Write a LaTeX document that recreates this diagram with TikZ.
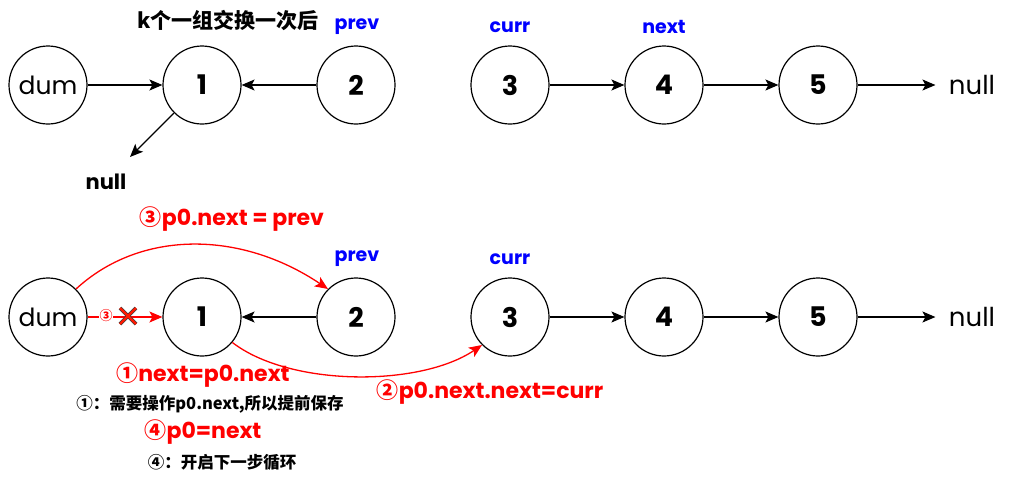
\documentclass[tikz,border=0pt]{standalone}
\usepackage{fontspec}
\setmainfont{Poppins}
\newfontfamily\cjk{Noto Sans CJK SC}
\usetikzlibrary{arrows.meta}
\begin{document}
\begin{tikzpicture}[x=1pt,y=-1pt,
  nd/.style={circle,draw,line width=1.2pt,minimum size=78pt,inner sep=0pt,font=\fontsize{27}{29}\selectfont\bfseries},
  ar/.style={-{Stealth[length=13pt,width=11pt,inset=3pt]},line width=1.2pt},
  rar/.style={ar,draw=red,line width=1.3pt},
  ptr/.style={text=blue,font=\fontsize{19}{21}\selectfont\bfseries},
  rlbl/.style={text=red,font=\fontsize{22}{24}\selectfont\bfseries},
  note/.style={font=\cjk\fontsize{16.5}{18}\selectfont\bfseries},
  plain/.style={font=\fontsize{26}{28}\selectfont}
]
\useasboundingbox (0,0) rectangle (1011,482);
% ---------- row 1 ----------
\node[font=\cjk\fontsize{21}{23}\selectfont\bfseries] (title) at (228,20) {k个一组交换一次后};
\node[nd,font=\fontsize{25}{27}\selectfont] (dumA) at (48,85) {dum};
\node[nd] (a1) at (202,85) {1};
\node[nd] (a2) at (356,85) {2};
\node[nd] (a3) at (510,85) {3};
\node[nd] (a4) at (664,85) {4};
\node[nd] (a5) at (818,85) {5};
\node[plain] (anull) at (972,85) {null};
\node[font=\fontsize{21}{23}\selectfont\bfseries] (bnull) at (106,182) {null};
\coordinate (a1null) at (130,157);
\node[ptr] (pA) at (357,27) {prev};
\node[ptr] (cA) at (510,27) {curr};
\node[ptr] (nA) at (664,27) {next};
\draw[ar] (dumA) -- (a1);
\draw[ar] (a2) -- (a1);
\draw[ar] (a1.225) -- (a1null);
\draw[ar] (a3) -- (a4);
\draw[ar] (a4) -- (a5);
\draw[ar,shorten >=10pt] (a5) -- (anull);
% ---------- row 2 ----------
\node[nd,font=\fontsize{25}{27}\selectfont] (dumB) at (48,317) {dum};
\node[nd] (b1) at (202,317) {1};
\node[nd] (b2) at (356,317) {2};
\node[nd] (b3) at (510,317) {3};
\node[nd] (b4) at (664,317) {4};
\node[nd] (b5) at (818,317) {5};
\node[plain] (bnull2) at (972,317) {null};
\node[ptr] (pB) at (357,259) {prev};
\node[ptr] (cB) at (510,259) {curr};
\draw[rar] (dumB) -- (b1);
\node[text=red,font=\cjk\fontsize{13}{13}\selectfont\bfseries,fill=white,inner sep=0.5pt] (c3) at (106,316) {③};
\node (xm) at (128,316) {};
\draw[line width=3.6pt,black!75] (120,308) -- (136,324) (120,324) -- (136,308);
\draw[line width=2.2pt,red!80!orange] (120,308) -- (136,324) (120,324) -- (136,308);
\draw[ar] (b2) -- (b1);
\draw[ar] (b3) -- (b4);
\draw[ar] (b4) -- (b5);
\draw[ar,shorten >=10pt] (b5) -- (bnull2);
\draw[rar] (dumB.45) .. controls (140,230) and (240,230) .. (b2.135);
\draw[rar] (b1.-40) .. controls (290,387) and (420,387) .. (b3.-135);
\node[rlbl] (l3) at (232,219) {{\cjk ③}p0.next = prev};
\node[rlbl] (l1) at (203,375) {{\cjk ①}next=p0.next};
\node[note] (n1) at (210,404) {①：需要操作p0.next,所以提前保存};
\node[rlbl] (l2) at (490,392) {{\cjk ②}p0.next.next=curr};
\node[rlbl] (l4) at (203,432) {{\cjk ④}p0=next};
\node[note] (n4) at (222,462) {④：开启下一步循环};
\end{tikzpicture}
\end{document}
